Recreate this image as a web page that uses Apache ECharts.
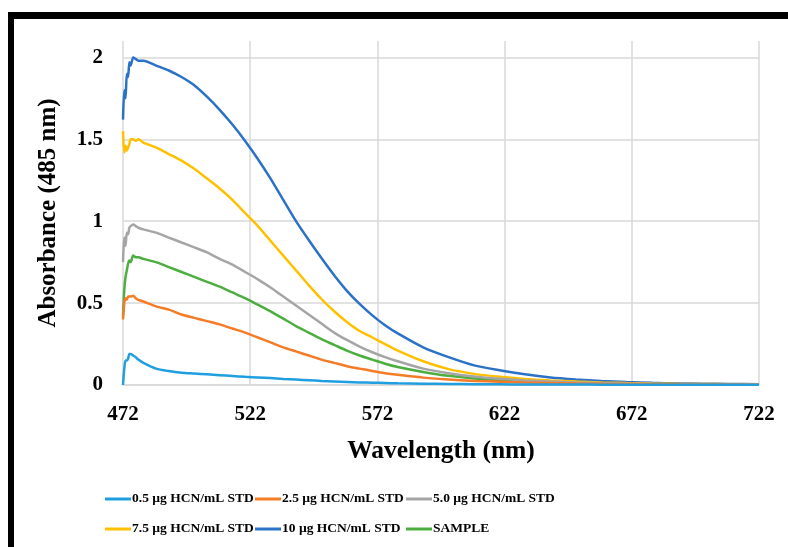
<!DOCTYPE html>
<html><head><meta charset="utf-8">
<script src="https://cdn.jsdelivr.net/npm/echarts@6/dist/echarts.min.js"></script>
<style>html,body{margin:0;padding:0;background:#fff}#c{width:788px;height:547px}</style>
</head><body><div id="c"></div>
<script>
const wavelengths = [472,472.5,473,473.5,474,474.5,475,476,477,478,480,485,490,495,500,505,510,515,520,525,530,535,540,545,550,555,560,565,570,575,580,590,600,610,620,630,640,650,660,670,680,690,700,710,722];
const std05 = [0.0,0.10,0.15,0.15,0.16,0.19,0.19,0.18,0.17,0.155,0.135,0.10,0.085,0.075,0.07,0.065,0.06,0.055,0.05,0.046,0.042,0.037,0.033,0.029,0.025,0.022,0.019,0.016,0.014,0.012,0.010,0.008,0.006,0.005,0.004,0.003,0.003,0.003,0.002,0.002,0.002,0.002,0.002,0.002,0.002];
const std25 = [0.40,0.50,0.53,0.52,0.54,0.54,0.54,0.545,0.53,0.52,0.51,0.48,0.46,0.43,0.41,0.39,0.37,0.345,0.32,0.29,0.26,0.23,0.205,0.18,0.155,0.135,0.115,0.10,0.085,0.072,0.062,0.045,0.033,0.025,0.02,0.015,0.012,0.009,0.007,0.006,0.005,0.004,0.003,0.003,0.002];
const std50 = [0.75,0.90,0.85,0.93,0.92,0.96,0.97,0.98,0.97,0.96,0.95,0.93,0.90,0.87,0.84,0.81,0.77,0.735,0.69,0.645,0.595,0.54,0.485,0.43,0.375,0.32,0.275,0.235,0.20,0.17,0.145,0.10,0.072,0.052,0.038,0.028,0.021,0.016,0.012,0.009,0.007,0.006,0.005,0.004,0.003];
const std75 = [1.55,1.42,1.46,1.43,1.45,1.47,1.50,1.50,1.49,1.50,1.48,1.45,1.41,1.37,1.32,1.26,1.20,1.13,1.05,0.97,0.88,0.79,0.70,0.61,0.525,0.45,0.385,0.33,0.29,0.25,0.21,0.145,0.097,0.068,0.05,0.037,0.028,0.021,0.016,0.012,0.009,0.007,0.006,0.005,0.004];
const std10 = [1.62,1.80,1.75,1.90,1.88,1.97,1.95,2.00,1.99,1.98,1.98,1.95,1.92,1.88,1.83,1.76,1.68,1.59,1.49,1.38,1.26,1.13,1.00,0.885,0.775,0.67,0.575,0.495,0.425,0.365,0.315,0.23,0.17,0.12,0.09,0.065,0.046,0.034,0.025,0.018,0.013,0.01,0.008,0.006,0.005];
const sample = [0.42,0.58,0.66,0.70,0.74,0.76,0.75,0.79,0.78,0.78,0.77,0.75,0.72,0.69,0.66,0.63,0.60,0.565,0.53,0.49,0.45,0.405,0.36,0.32,0.28,0.245,0.21,0.18,0.155,0.13,0.11,0.08,0.056,0.04,0.03,0.023,0.017,0.013,0.01,0.008,0.006,0.005,0.004,0.003,0.003];
const xTicks = [472,522,572,622,672,722];
const yTicks = [0,0.5,1,1.5,2];

const names = ['0.5 µg HCN/mL STD','2.5 µg HCN/mL STD','5.0 µg HCN/mL STD','7.5 µg HCN/mL STD','10 µg HCN/mL STD','SAMPLE'];
const values = [std05,std25,std50,std75,std10,sample];
const colors = ['#1F9FE0','#F57C27','#A5A5A5','#FFC000','#2B72C6','#4CAE3F'];
const font = "'Liberation Serif','Times New Roman',serif";

const series = names.map((n,i)=>({
  name:n, type:'line', showSymbol:false, symbol:'none', smooth:0.25,
  data: wavelengths.map((w,j)=>[w, values[i][j]]),
  lineStyle:{width:2.5,color:colors[i]}, itemStyle:{color:colors[i]},
  z: 10 - i
}));

function legend(left, data){
  return {left:left, top:487, orient:'vertical', itemGap:16, itemWidth:26, itemHeight:3, icon:'rect',
    data:data, textStyle:{fontFamily:font, fontWeight:'bold', fontSize:13.5, color:'#000', padding:[0,0,0,-4]}};
}

const chart = echarts.init(document.getElementById('c'), null, {renderer:'canvas'});
chart.setOption({
  backgroundColor:'#fff',
  animation:false,
  graphic:[
    {type:'rect', left:8, top:12, shape:{width:790, height:7}, style:{fill:'#000'}},
    {type:'rect', left:8, top:12, shape:{width:6, height:540}, style:{fill:'#000'}}
  ],
  grid:{left:123, right:29, top:41, bottom:162},
  legend:[legend(100,[names[0],names[3]]), legend(250,[names[1],names[4]]), legend(401,[names[2],names[5]])],
  xAxis:{type:'value', min:472, max:722, interval:50,
    name:'Wavelength (nm)', nameLocation:'middle', nameGap:53,
    nameTextStyle:{fontFamily:font, fontWeight:'bold', fontSize:25.5, color:'#000'},
    axisLine:{show:true, lineStyle:{color:'#d9d9d9', width:1.5}},
    axisTick:{show:false},
    splitLine:{show:true, lineStyle:{color:'#d9d9d9', width:1.5}},
    axisLabel:{fontFamily:font, fontWeight:'bold', fontSize:21, color:'#000', margin:19,
      formatter:v=>xTicks.includes(v)?String(v):''}
  },
  yAxis:{type:'value', min:0, max:2.1, interval:0.5,
    name:'Absorbance (485 nm)', nameLocation:'middle', nameGap:62, nameRotate:90,
    nameTextStyle:{fontFamily:font, fontWeight:'bold', fontSize:25, color:'#000'},
    axisLine:{show:false}, axisTick:{show:false},
    splitLine:{show:true, showMaxLine:false, lineStyle:{color:'#d9d9d9', width:1.5}},
    axisLabel:{fontFamily:font, fontWeight:'bold', fontSize:21, color:'#000', margin:20, showMaxLabel:false,
      formatter:v=>yTicks.includes(v)?String(v):''}
  },
  series:series
});
</script></body></html>
